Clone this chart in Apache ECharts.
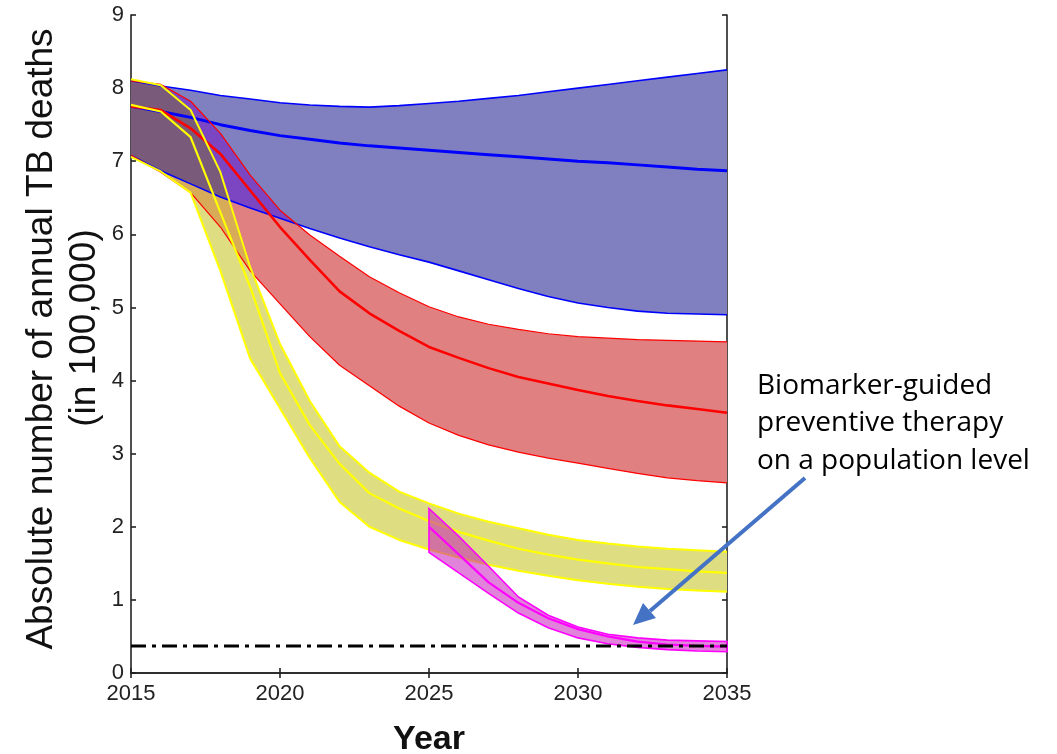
<!DOCTYPE html>
<html>
<head>
<meta charset="utf-8">
<script src="https://cdn.jsdelivr.net/npm/echarts@6/dist/echarts.min.js"></script>
<style>
  html, body { margin: 0; padding: 0; background: #fff; }
  #chart { width: 1057px; height: 754px; }
</style>
</head>
<body>
<div id="chart"></div>
<script>
// Annual TB deaths (in 100,000), projected 2015-2035
const years = [2015, 2016, 2017, 2018, 2019, 2020, 2021, 2022, 2023, 2024, 2025,
               2026, 2027, 2028, 2029, 2030, 2031, 2032, 2033, 2034, 2035];

// Scenario 1 (blue)
const blueUpper = [8.10, 8.03, 7.97, 7.90, 7.85, 7.80, 7.77, 7.75, 7.74, 7.76, 7.79, 7.82, 7.86, 7.90, 7.95, 8.00, 8.05, 8.10, 8.15, 8.20, 8.25];
const blueMid   = [7.75, 7.68, 7.60, 7.50, 7.42, 7.35, 7.30, 7.25, 7.21, 7.18, 7.15, 7.12, 7.09, 7.06, 7.03, 7.00, 6.98, 6.95, 6.92, 6.89, 6.87];
const blueLower = [7.08, 6.87, 6.69, 6.51, 6.36, 6.22, 6.08, 5.95, 5.83, 5.72, 5.62, 5.50, 5.38, 5.26, 5.15, 5.06, 5.00, 4.95, 4.92, 4.91, 4.90];

// Scenario 2 (red)
const redUpper = [8.10, 8.05, 7.82, 7.38, 6.81, 6.33, 5.99, 5.70, 5.42, 5.20, 5.01, 4.87, 4.77, 4.70, 4.64, 4.60, 4.58, 4.56, 4.55, 4.54, 4.53];
const redMid   = [7.75, 7.70, 7.45, 7.10, 6.60, 6.10, 5.65, 5.22, 4.92, 4.68, 4.46, 4.31, 4.17, 4.05, 3.96, 3.87, 3.79, 3.72, 3.66, 3.61, 3.56];
const redLower = [7.08, 6.85, 6.57, 6.10, 5.50, 5.05, 4.60, 4.21, 3.93, 3.65, 3.42, 3.25, 3.12, 3.02, 2.94, 2.87, 2.80, 2.73, 2.67, 2.63, 2.60];

// Scenario 3 (yellow)
const yellowUpper = [8.12, 8.04, 7.70, 6.85, 5.55, 4.50, 3.72, 3.10, 2.74, 2.48, 2.32, 2.18, 2.07, 1.98, 1.89, 1.82, 1.77, 1.73, 1.70, 1.68, 1.66];
const yellowMid   = [7.77, 7.68, 7.33, 6.30, 5.28, 4.10, 3.39, 2.86, 2.46, 2.25, 2.08, 1.93, 1.81, 1.70, 1.62, 1.55, 1.50, 1.45, 1.42, 1.39, 1.37];
const yellowLower = [7.06, 6.86, 6.57, 5.50, 4.30, 3.62, 2.94, 2.34, 2.00, 1.82, 1.69, 1.58, 1.48, 1.40, 1.33, 1.27, 1.22, 1.18, 1.15, 1.13, 1.11];

// Biomarker-guided preventive therapy from 2025 (magenta)
const magYears = [2025, 2026, 2027, 2028, 2029, 2030, 2031, 2032, 2033, 2034, 2035];
const magUpper = [2.25, 1.87, 1.46, 1.04, 0.79, 0.63, 0.53, 0.48, 0.45, 0.44, 0.43];
const magMid   = [2.00, 1.62, 1.24, 0.96, 0.75, 0.60, 0.50, 0.43, 0.39, 0.37, 0.36];
const magLower = [1.65, 1.37, 1.09, 0.82, 0.62, 0.48, 0.40, 0.35, 0.32, 0.30, 0.29];

// Target level (dash-dot)
const targetLevel = 0.37;

// Axis ticks
const xTicks = { min: 2015, max: 2035, interval: 5 };
const yTicks = { min: 0, max: 9, interval: 1 };

const bands = {
  blue:   { xs: years, lo: blueLower, hi: blueUpper },
  red:    { xs: years, lo: redLower, hi: redUpper },
  yellow: { xs: years, lo: yellowLower, hi: yellowUpper }
};

function interp(xs, ys, t) {
  if (t <= xs[0]) return ys[0];
  for (let i = 0; i < xs.length - 1; i++) {
    if (t <= xs[i + 1]) {
      const f = (t - xs[i]) / (xs[i + 1] - xs[i]);
      return ys[i] + f * (ys[i + 1] - ys[i]);
    }
  }
  return ys[ys.length - 1];
}

function bandPoints(b) {
  const top = b.xs.map((x, i) => [x, b.hi[i]]);
  const bot = b.xs.map((x, i) => [x, b.lo[i]]).reverse();
  return top.concat(bot);
}

// Region shared by several bands: between the highest lower edge and the lowest upper edge
function overlapPolygons(list) {
  const t0 = Math.max(...list.map(b => b.xs[0]));
  const t1 = Math.min(...list.map(b => b.xs[b.xs.length - 1]));
  const n = Math.round((t1 - t0) / 0.02);
  const samples = [];
  for (let k = 0; k <= n; k++) {
    const t = t0 + (t1 - t0) * k / n;
    const lo = Math.max(...list.map(b => interp(b.xs, b.lo, t)));
    const hi = Math.min(...list.map(b => interp(b.xs, b.hi, t)));
    samples.push({ t, lo, hi, d: hi - lo });
  }
  const polys = [];
  let run = null;
  for (let k = 0; k < samples.length; k++) {
    const s = samples[k];
    if (k > 0) {
      const p = samples[k - 1];
      if ((p.d > 0) !== (s.d > 0)) {
        const f = p.d / (p.d - s.d);
        const tc = p.t + f * (s.t - p.t);
        const vc = p.lo + f * (s.lo - p.lo);
        const pt = { t: tc, lo: vc, hi: vc };
        if (run) { run.push(pt); polys.push(run); run = null; }
        else { run = [pt]; }
      }
    }
    if (s.d > 0) { if (!run) run = []; run.push(s); }
  }
  if (run) polys.push(run);
  return polys.map(r => r.map(s => [s.t, s.hi]).concat(r.slice().reverse().map(s => [s.t, s.lo])));
}

const fillColors = {
  blue: '#8080c0',
  red: '#e08080',
  yellow: '#dedd82',
  redBlue: '#7c46c2',
  yellowRed: '#d8ab58',
  yellowBlue: '#8f8b98',
  all: '#7a5a7a'
};

function renderBandFills(params, api) {
  const toPx = pts => pts.map(p => api.coord(p));
  const children = [];
  const add = (pts, fill) => children.push({
    type: 'polygon', shape: { points: toPx(pts) }, style: { fill: fill }
  });
  add(bandPoints(bands.blue), fillColors.blue);
  add(bandPoints(bands.red), fillColors.red);
  add(bandPoints(bands.yellow), fillColors.yellow);
  overlapPolygons([bands.red, bands.blue]).forEach(p => add(p, fillColors.redBlue));
  overlapPolygons([bands.yellow, bands.red]).forEach(p => add(p, fillColors.yellowRed));
  overlapPolygons([bands.yellow, bands.blue]).forEach(p => add(p, fillColors.yellowBlue));
  overlapPolygons([bands.yellow, bands.red, bands.blue]).forEach(p => add(p, fillColors.all));
  return { type: 'group', children: children };
}

function renderMagentaBand(params, api) {
  const top = magYears.map((x, i) => [x, magUpper[i]]);
  const bot = magYears.map((x, i) => [x, magLower[i]]).reverse();
  return {
    type: 'polygon',
    shape: { points: top.concat(bot).map(p => api.coord(p)) },
    style: { fill: 'rgba(200,30,190,0.55)', stroke: '#ff00ff', lineWidth: 1.6 }
  };
}

const pairs = (xs, ys) => xs.map((x, i) => [x, ys[i]]);
const lineSeries = (data, color, width, z) => ({
  type: 'line', data: data, showSymbol: false, symbol: 'none', silent: true,
  lineStyle: { color: color, width: width }, z: z, animation: false
});

const axisFont = { fontFamily: 'Liberation Sans, Arial, sans-serif', fontSize: 22, color: '#222' };
const axisLineStyle = { color: '#222', width: 1.6 };

const option = {
  backgroundColor: '#fff',
  animation: false,
  grid: { left: 131, right: 330, top: 15, bottom: 81, outerBoundsMode: 'none', containLabel: false },
  xAxis: [
    {
      type: 'value', min: xTicks.min, max: xTicks.max, interval: xTicks.interval, position: 'bottom',
      axisLine: { show: true, lineStyle: axisLineStyle },
      axisTick: { show: true, inside: true, length: 5, lineStyle: axisLineStyle },
      axisLabel: Object.assign({ margin: 10, formatter: v => String(v) }, axisFont),
      splitLine: { show: false },
      name: 'Year', nameLocation: 'middle', nameGap: 50,
      nameTextStyle: { fontFamily: 'Liberation Sans, Arial, sans-serif', fontSize: 34, fontWeight: 'bold', color: '#111' }
    },
    {
      type: 'value', min: xTicks.min, max: xTicks.max, interval: xTicks.interval, position: 'top',
      axisLine: { show: true, lineStyle: axisLineStyle },
      axisTick: { show: true, inside: true, length: 5, lineStyle: axisLineStyle },
      axisLabel: { show: false }, splitLine: { show: false }
    }
  ],
  yAxis: [
    {
      type: 'value', min: yTicks.min, max: yTicks.max, interval: yTicks.interval, position: 'left',
      axisLine: { show: true, lineStyle: axisLineStyle },
      axisTick: { show: true, inside: true, length: 5, lineStyle: axisLineStyle },
      axisLabel: Object.assign({ margin: 7 }, axisFont),
      splitLine: { show: false }
    },
    {
      type: 'value', min: yTicks.min, max: yTicks.max, interval: yTicks.interval, position: 'right',
      axisLine: { show: true, lineStyle: axisLineStyle },
      axisTick: { show: true, inside: true, length: 5, lineStyle: axisLineStyle },
      axisLabel: { show: false }, splitLine: { show: false }
    }
  ],
  series: [
    {
      type: 'custom', coordinateSystem: 'cartesian2d', silent: true, z: 1,
      data: [[2015, 0]], renderItem: renderBandFills
    },
    lineSeries(pairs(years, blueUpper), '#0000ff', 1.6, 2),
    lineSeries(pairs(years, blueLower), '#0000ff', 1.6, 2),
    lineSeries(pairs(years, blueMid), '#0000ff', 3, 2),
    lineSeries(pairs(years, redUpper), '#ff0000', 1.2, 2),
    lineSeries(pairs(years, redLower), '#ff0000', 1.2, 2),
    lineSeries(pairs(years, redMid), '#ff0000', 2.6, 2),
    lineSeries(pairs(years, yellowUpper), '#ffff00', 2, 2),
    lineSeries(pairs(years, yellowLower), '#ffff00', 2, 2),
    lineSeries(pairs(years, yellowMid), '#ffff00', 2.2, 2),
    {
      type: 'custom', coordinateSystem: 'cartesian2d', silent: true, z: 3,
      data: [[2025, 0]], renderItem: renderMagentaBand
    },
    lineSeries(pairs(magYears, magMid), '#ff00ff', 2.2, 4),
    {
      type: 'line', silent: true, symbol: 'none', z: 5,
      data: [[xTicks.min, targetLevel], [xTicks.max, targetLevel]],
      lineStyle: { color: '#000', width: 3, type: [15, 6, 4, 6] }
    }
  ],
  graphic: [
    {
      type: 'text', x: 42, y: 339, rotation: Math.PI / 2,
      style: {
        text: 'Absolute number of annual TB deaths', textAlign: 'center', textVerticalAlign: 'middle',
        fontFamily: 'Liberation Sans, Arial, sans-serif', fontSize: 37, fill: '#111'
      }
    },
    {
      type: 'text', x: 85, y: 328, rotation: Math.PI / 2,
      style: {
        text: '(in 100,000)', textAlign: 'center', textVerticalAlign: 'middle',
        fontFamily: 'Liberation Sans, Arial, sans-serif', fontSize: 37, fill: '#111'
      }
    },
    {
      type: 'text', x: 757, y: 386,
      style: {
        text: 'Biomarker-guided', textVerticalAlign: 'middle',
        fontFamily: 'Open Sans, sans-serif', fontSize: 28, fill: '#000'
      }
    },
    {
      type: 'text', x: 757, y: 423,
      style: {
        text: 'preventive therapy', textVerticalAlign: 'middle',
        fontFamily: 'Open Sans, sans-serif', fontSize: 28, fill: '#000'
      }
    },
    {
      type: 'text', x: 757, y: 461,
      style: {
        text: 'on a population level', textVerticalAlign: 'middle',
        fontFamily: 'Open Sans, sans-serif', fontSize: 28, fill: '#000'
      }
    },
    {
      type: 'line', shape: { x1: 805, y1: 478, x2: 650, y2: 611 },
      style: { stroke: '#4472c4', lineWidth: 4 }, z: 100
    },
    {
      type: 'polygon', shape: { points: [[633, 625], [656, 618], [643, 603]] },
      style: { fill: '#4472c4' }, z: 100
    }
  ]
};

const chart = echarts.init(document.getElementById('chart'), null, { renderer: 'canvas' });
chart.setOption(option);
</script>
</body>
</html>
